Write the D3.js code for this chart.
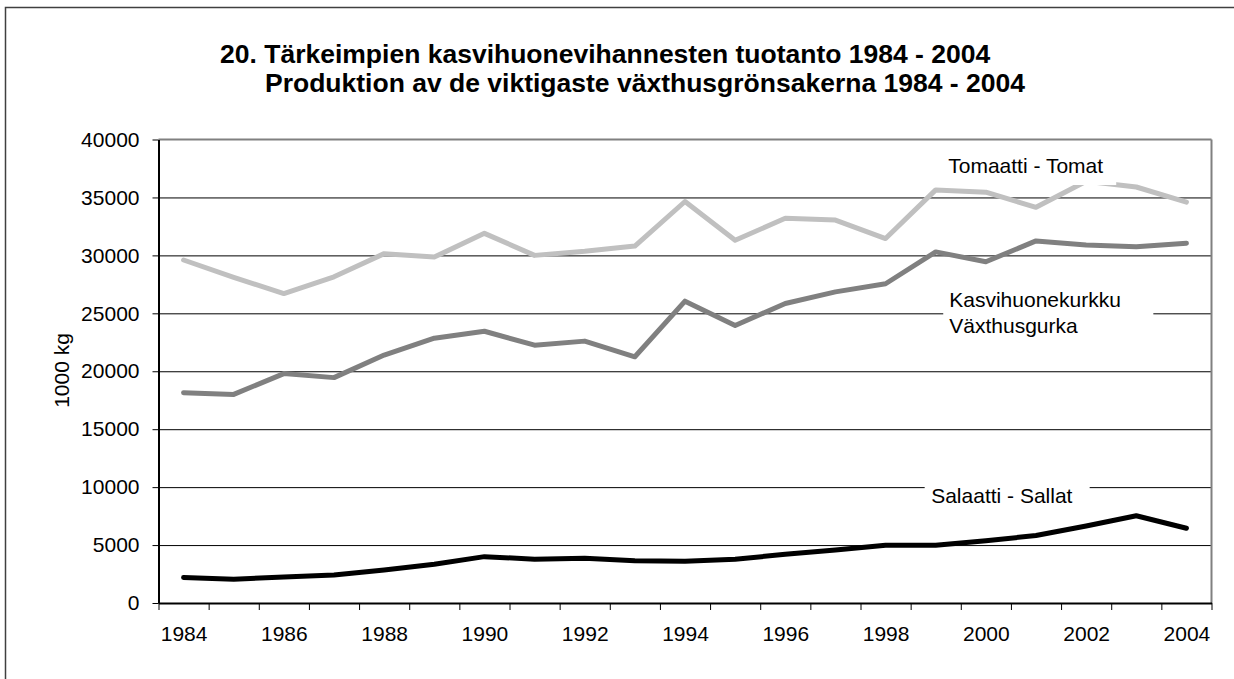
<!DOCTYPE html>
<html>
<head>
<meta charset="utf-8">
<script src="https://cdn.jsdelivr.net/npm/d3@7"></script>
<style>
body { margin: 0; background: #fff; }
text { font-family: "Liberation Sans", Arial, sans-serif; fill: #000; }
</style>
</head>
<body>
<svg id="chart" width="1234" height="679"></svg>
<script>
// values, 1000 kg
var years = [1984, 1985, 1986, 1987, 1988, 1989, 1990, 1991, 1992, 1993, 1994,
             1995, 1996, 1997, 1998, 1999, 2000, 2001, 2002, 2003, 2004];
var tomato = [29600, 28100, 26700, 28150, 30150, 29850, 31900, 30000, 30350, 30800, 34650,
              31300, 33200, 33050, 31450, 35650, 35450, 34150, 36400, 35900, 34600];
var cucumber = [18150, 18000, 19800, 19450, 21400, 22850, 23450, 22250, 22600, 21250, 26050,
                23950, 25850, 26850, 27550, 30300, 29450, 31250, 30900, 30750, 31050];
var salad = [2200, 2050, 2250, 2420, 2850, 3340, 4000, 3780, 3860, 3650, 3600,
             3780, 4200, 4570, 4980, 4980, 5380, 5820, 6650, 7530, 6450];
var yearLabels = ["1984", "1986", "1988", "1990", "1992", "1994", "1996", "1998", "2000", "2002", "2004"];
var yTicks = [0, 5000, 10000, 15000, 20000, 25000, 30000, 35000, 40000];

var svg = d3.select("#chart");

var plotL = 158.5, plotR = 1211.5, plotT = 139.5, plotB = 603;

// x: category index, bands of one year
var x = d3.scaleLinear().domain([0, years.length]).range([plotL, plotR]);
var y = d3.scaleLinear().domain([0, 40000]).range([plotB, plotT]);

// outer frame
svg.append("rect").attr("x", 5.5).attr("y", 7.5).attr("width", 1300).attr("height", 700)
    .attr("fill", "none").attr("stroke", "#404040").attr("stroke-width", 1.5);

// title
var title = svg.append("text").attr("font-weight", "bold").attr("font-size", "26.5px");
title.append("tspan").attr("x", 220).attr("y", 63)
    .text("20. Tärkeimpien kasvihuonevihannesten tuotanto 1984 - 2004");
title.append("tspan").attr("x", 265).attr("y", 92)
    .text("Produktion av de viktigaste växthusgrönsakerna 1984 - 2004");

// gridlines
svg.append("g").attr("transform", "translate(" + plotL + ",0)")
    .call(d3.axisLeft(y).tickValues(yTicks.slice(1, -1)).tickSize(-(plotR - plotL)).tickFormat(""))
    .call(function(g) { g.select(".domain").remove(); })
    .selectAll("line").attr("stroke", "#000").attr("stroke-width", 1);

// plot border top / right
svg.append("line").attr("x1", plotL).attr("x2", plotR).attr("y1", plotT).attr("y2", plotT)
    .attr("stroke", "#808080").attr("stroke-width", 2);
svg.append("line").attr("x1", plotR).attr("x2", plotR).attr("y1", plotT).attr("y2", plotB)
    .attr("stroke", "#808080").attr("stroke-width", 2);

// series
var line = d3.line()
    .x(function(d, i) { return x(i + 0.5); })
    .y(function(d) { return y(d); });

[[tomato, "#c0c0c0"], [cucumber, "#808080"], [salad, "#000"]].forEach(function(s) {
    svg.append("path").datum(s[0]).attr("d", line)
        .attr("fill", "none").attr("stroke", s[1]).attr("stroke-width", 5)
        .attr("stroke-linejoin", "round").attr("stroke-linecap", "round");
});

// series labels with white boxes
function label(lines, tx, ty, box) {
    svg.append("rect").attr("x", box[0]).attr("y", box[1])
        .attr("width", box[2] - box[0]).attr("height", box[3] - box[1]).attr("fill", "#fff");
    var t = svg.append("text").attr("font-size", "21px");
    lines.forEach(function(s, i) {
        t.append("tspan").attr("x", tx).attr("y", ty + i * 26.5).text(s);
    });
}
label(["Tomaatti - Tomat"], x(15.75), y(37100), [x(15.6), 150, x(19.1), 185]);
label(["Kasvihuonekurkku", "Växthusgurka"], x(15.77), y(25570), [x(15.65), 285, x(19.84), 342]);
label(["Salaatti - Sallat"], x(15.41), y(8650), [x(15.28), 485, x(18.57), 511]);

// y axis
svg.append("g").attr("transform", "translate(" + plotL + ",0)")
    .call(d3.axisLeft(y).tickValues(yTicks).tickSize(6).tickSizeOuter(0).tickPadding(13)
        .tickFormat(d3.format("d")))
    .call(function(g) {
        g.select(".domain").attr("stroke", "#000").attr("stroke-width", 2);
        g.selectAll("text").attr("font-size", "21px").attr("font-family", null);
        g.selectAll("line").attr("stroke", "#000");
    });

// x axis: ticks on the year boundaries
svg.append("g").attr("transform", "translate(0," + plotB + ")")
    .call(d3.axisBottom(x).tickValues(d3.range(years.length + 1)).tickSize(7).tickSizeOuter(0).tickFormat(""))
    .call(function(g) {
        g.select(".domain").attr("stroke", "#000").attr("stroke-width", 2);
        g.selectAll("line").attr("stroke", "#000");
    });

// x labels every other year, centred in the band
svg.append("g").attr("transform", "translate(0," + plotB + ")")
    .call(d3.axisBottom(x)
        .tickValues(yearLabels.map(function(l) { return years.indexOf(+l) + 0.5; }))
        .tickFormat(function(d) { return yearLabels[Math.round(d - 0.5) / 2]; })
        .tickSize(0).tickPadding(23))
    .call(function(g) {
        g.select(".domain").remove();
        g.selectAll("text").attr("font-size", "21px").attr("font-family", null);
    });

// y axis title
svg.append("text").attr("transform", "translate(68.5,370.5) rotate(-90)")
    .attr("text-anchor", "middle").attr("font-size", "21px").text("1000 kg");
</script>
</body>
</html>
